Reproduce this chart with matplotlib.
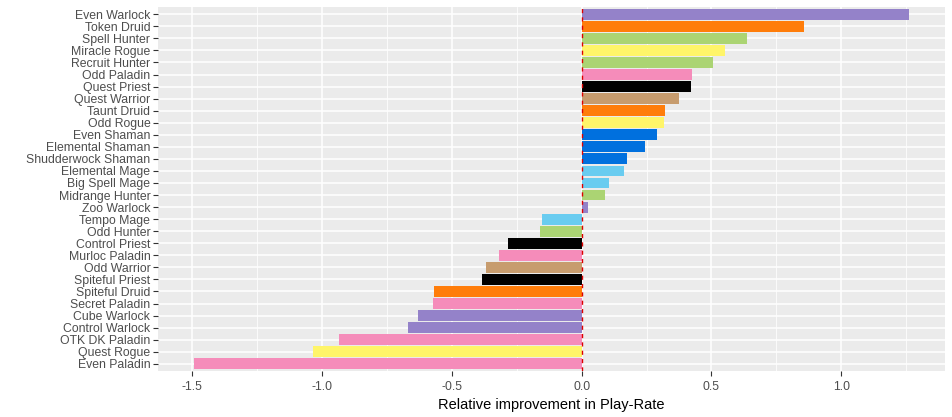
import matplotlib
matplotlib.use("Agg")
import matplotlib.pyplot as plt
import numpy as np

# decks from bottom to top, with relative improvement and class
decks = [
    "Even Paladin", "Quest Rogue", "OTK DK Paladin", "Control Warlock", "Cube Warlock",
    "Secret Paladin", "Spiteful Druid", "Spiteful Priest", "Odd Warrior", "Murloc Paladin",
    "Control Priest", "Odd Hunter", "Tempo Mage", "Zoo Warlock", "Midrange Hunter",
    "Big Spell Mage", "Elemental Mage", "Shudderwock Shaman", "Elemental Shaman", "Even Shaman",
    "Odd Rogue", "Taunt Druid", "Quest Warrior", "Quest Priest", "Odd Paladin",
    "Recruit Hunter", "Miracle Rogue", "Spell Hunter", "Token Druid", "Even Warlock",
]
improvement = [
    -1.494, -1.036, -0.936, -0.667, -0.632,
    -0.574, -0.567, -0.382, -0.367, -0.317,
    -0.282, -0.159, -0.151, 0.024, 0.092,
    0.104, 0.162, 0.173, 0.246, 0.292,
    0.318, 0.323, 0.377, 0.423, 0.427,
    0.508, 0.554, 0.638, 0.858, 1.262,
]
deck_class = [
    "Paladin", "Rogue", "Paladin", "Warlock", "Warlock",
    "Paladin", "Druid", "Priest", "Warrior", "Paladin",
    "Priest", "Hunter", "Mage", "Warlock", "Hunter",
    "Mage", "Mage", "Shaman", "Shaman", "Shaman",
    "Rogue", "Druid", "Warrior", "Priest", "Paladin",
    "Hunter", "Rogue", "Hunter", "Druid", "Warlock",
]

class_colors = {
    "Warlock": "#9482C9",
    "Druid": "#FF7D0A",
    "Hunter": "#ABD473",
    "Rogue": "#FFF569",
    "Paladin": "#F58CBA",
    "Priest": "#000000",
    "Warrior": "#C79C6E",
    "Shaman": "#0070DE",
    "Mage": "#69CCF0",
}

plt.rcParams["font.family"] = ["Liberation Sans", "DejaVu Sans"]

fig = plt.figure(figsize=(9.53, 4.17), dpi=100)
ax = fig.add_axes([0.1658, 0.1103, 0.8258, 0.8729])
ax.set_facecolor("#EBEBEB")

y = np.arange(len(decks))
colors = [class_colors[c] for c in deck_class]
ax.barh(y, improvement, height=0.9, color=colors, zorder=3)
ax.axvline(0, color="#DD0000", linestyle=(0, (3, 3)), linewidth=1.0, zorder=4)

# limits like ggplot's 5% expansion
lo, hi = min(improvement), max(improvement)
pad = 0.05 * (hi - lo)
ax.set_xlim(lo - pad, hi + pad)
ax.set_ylim(-0.6, len(decks) - 0.4)

ax.set_yticks(y)
ax.set_yticklabels(decks)
ax.set_xticks([-1.5, -1.0, -0.5, 0.0, 0.5, 1.0])
ax.set_xticklabels(["-1.5", "-1.0", "-0.5", "0.0", "0.5", "1.0"])
ax.set_xticks([-1.25, -0.75, -0.25, 0.25, 0.75, 1.25], minor=True)

ax.grid(True, which="major", color="white", linewidth=1.1, zorder=0)
ax.grid(True, which="minor", axis="x", color="white", linewidth=0.55, zorder=0)
ax.set_axisbelow(True)

ax.tick_params(axis="both", which="major", colors="#333333", labelcolor="#4D4D4D",
               labelsize=8.8, length=3.5, width=0.8, pad=2)
ax.tick_params(axis="x", which="major", pad=3.5)
ax.tick_params(axis="both", which="minor", length=0)
for s in ax.spines.values():
    s.set_visible(False)

ax.set_xlabel("Relative improvement in Play-Rate", fontsize=10.5, color="black", labelpad=4)

fig.savefig("out.png", dpi=100)
